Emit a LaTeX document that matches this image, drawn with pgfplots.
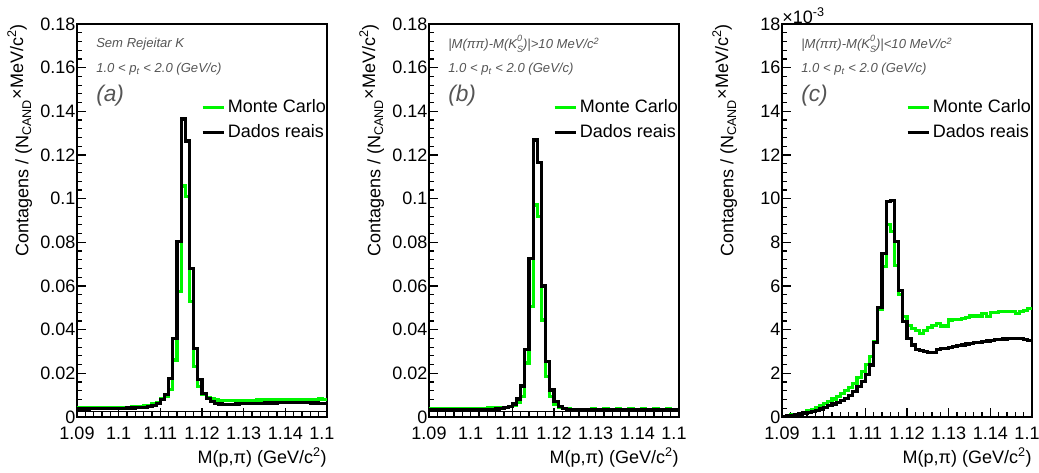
\documentclass[border=0pt]{standalone}
\usepackage{fontspec}
\setmainfont{Liberation Sans}
\usepackage{graphicx}
\usepackage{pgfplots}
\usepackage{pgfplotstable}
\pgfplotsset{compat=1.18}
\definecolor{mcgreen}{RGB}{0,245,0}
\definecolor{annot}{RGB}{85,85,85}
\newcommand{\tickfont}{\fontsize{13.5pt}{16pt}\selectfont}
\newcommand{\legfont}{\fontsize{13.5pt}{16pt}\selectfont}
\newcommand{\annfont}{\fontsize{9.8pt}{11pt}\selectfont\itshape}
\newcommand{\cutlab}{\makebox[0pt][l]{1.1}\phantom{1.15}}
\newcommand{\KS}{K\raisebox{-0.5ex}{\fontsize{6.8pt}{6.6pt}\selectfont\shortstack[l]{0\\S}}}

\pgfplotstableread{
x mc dat
1.090 .0042 .0037
1.091 .0042 .0037
1.092 .0042 .0037
1.093 .0042 .0038
1.094 .0043 .0038
1.095 .0043 .0038
1.096 .0043 .0038
1.097 .0043 .0039
1.098 .0044 .0039
1.099 .0044 .0039
1.100 .0044 .0040
1.101 .0045 .0040
1.102 .0045 .0041
1.103 .0046 .0041
1.104 .0047 .0042
1.105 .0048 .0043
1.106 .0050 .0045
1.107 .0054 .0048
1.108 .0060 .0053
1.109 .0068 .0063
1.110 .0085 .0080
1.111 .0095 .0104
1.112 .0127 .0177
1.113 .0261 .0360
1.114 .0574 .0803
1.115 .1058 .1365
1.116 .1009 .1264
1.117 .0528 .0681
1.118 .0230 .0313
1.119 .0139 .0173
1.120 .0104 .0109
1.121 .0090 .0086
1.122 .0082 .0070
1.123 .0078 .0063
1.124 .0076 .0060
1.125 .0075 .0058
1.126 .0075 .0058
1.127 .0076 .0059
1.128 .0076 .0060
1.129 .0076 .0061
1.130 .0077 .0062
1.131 .0077 .0062
1.132 .0077 .0063
1.133 .0078 .0063
1.134 .0078 .0063
1.135 .0078 .0064
1.136 .0079 .0064
1.137 .0079 .0064
1.138 .0079 .0065
1.139 .0080 .0065
1.140 .0080 .0065
1.141 .0080 .0066
1.142 .0080 .0065
1.143 .0081 .0066
1.144 .0080 .0065
1.145 .0081 .0065
1.146 .0081 .0064
1.147 .0081 .0064
1.148 .0082 .0063
1.149 .0081 .0063
1.150 .0081 .0063
}\tabA

\pgfplotstableread{
x mc dat
1.090 .0040 .0035
1.091 .0040 .0035
1.092 .0039 .0035
1.093 .0040 .0034
1.094 .0040 .0035
1.095 .0039 .0034
1.096 .0040 .0034
1.097 .0040 .0035
1.098 .0039 .0034
1.099 .0040 .0034
1.100 .0040 .0035
1.101 .0040 .0035
1.102 .0040 .0035
1.103 .0040 .0035
1.104 .0041 .0036
1.105 .0041 .0036
1.106 .0041 .0037
1.107 .0042 .0039
1.108 .0044 .0043
1.109 .0047 .0048
1.110 .0054 .0060
1.111 .0066 .0082
1.112 .0095 .0142
1.113 .0247 .0310
1.114 .0505 .0727
1.115 .0971 .1269
1.116 .0920 .1165
1.117 .0444 .0600
1.118 .0185 .0253
1.119 .0093 .0124
1.120 .0058 .0070
1.121 .0045 .0048
1.122 .0040 .0040
1.123 .0037 .0036
1.124 .0036 .0034
1.125 .0036 .0033
1.126 .0036 .0033
1.127 .0036 .0033
1.128 .0036 .0033
1.129 .0037 .0033
1.130 .0036 .0033
1.131 .0036 .0033
1.132 .0037 .0034
1.133 .0036 .0033
1.134 .0036 .0033
1.135 .0037 .0033
1.136 .0036 .0033
1.137 .0036 .0034
1.138 .0037 .0033
1.139 .0036 .0033
1.140 .0036 .0033
1.141 .0037 .0033
1.142 .0036 .0034
1.143 .0036 .0033
1.144 .0037 .0033
1.145 .0036 .0033
1.146 .0036 .0033
1.147 .0037 .0034
1.148 .0036 .0033
1.149 .0036 .0033
1.150 .0036 .0033
}\tabB

\pgfplotstableread{
x mc dat
1.090 0.03 0.03
1.091 0.05 0.05
1.092 0.09 0.08
1.093 0.12 0.11
1.094 0.17 0.14
1.095 0.22 0.18
1.096 0.28 0.22
1.097 0.35 0.26
1.098 0.43 0.31
1.099 0.52 0.37
1.100 0.61 0.44
1.101 0.71 0.52
1.102 0.82 0.60
1.103 0.94 0.68
1.104 1.06 0.77
1.105 1.20 0.86
1.106 1.36 0.97
1.107 1.55 1.15
1.108 1.80 1.38
1.109 2.07 1.62
1.110 2.40 1.96
1.111 2.78 2.38
1.112 3.45 3.42
1.113 4.92 5.02
1.114 6.90 7.48
1.115 8.81 9.88
1.116 8.50 9.92
1.117 6.93 8.02
1.118 5.60 5.79
1.119 4.60 4.36
1.120 4.18 3.58
1.121 4.05 3.30
1.122 3.98 3.10
1.123 3.84 3.05
1.124 3.95 3.00
1.125 4.10 2.97
1.126 4.20 2.94
1.127 4.30 3.08
1.128 4.17 3.12
1.129 4.17 3.15
1.130 4.44 3.19
1.131 4.47 3.22
1.132 4.47 3.26
1.133 4.50 3.30
1.134 4.55 3.34
1.135 4.63 3.37
1.136 4.63 3.40
1.137 4.63 3.43
1.138 4.75 3.45
1.139 4.60 3.48
1.140 4.78 3.51
1.141 4.78 3.54
1.142 4.82 3.55
1.143 4.85 3.57
1.144 4.82 3.58
1.145 4.85 3.60
1.146 4.75 3.60
1.147 4.85 3.59
1.148 4.86 3.56
1.149 4.98 3.49
1.150 4.98 3.49
}\tabC

\pgfplotsset{
  rootaxis/.style={
    scale only axis, width=187.5pt, height=294.75pt, anchor=south west,
    clip mode=individual,
    xmin=1.09, xmax=1.15, ymin=0,
    xtick={1.09,1.10,1.11,1.12,1.13,1.14,1.15},
    xticklabels={1.09,1.1,1.11,1.12,1.13,1.14,\cutlab},
    minor x tick num=4, minor y tick num=4,
    tick align=inside, tick pos=left,
    major tick length=6.5pt, minor tick length=3.5pt,
    axis line style={line width=1.4pt},
    every tick/.style={black, line width=0.9pt},
    /pgf/number format/assume math mode=true,
    scaled y ticks=false,
    yticklabel style={font=\tickfont, inner xsep=1pt, /pgf/number format/fixed, /pgf/number format/precision=2},
    xticklabel style={font=\tickfont, yshift=-4pt},
    xlabel={M(p,π) (GeV/c\textsuperscript{2})},
    xlabel style={at={(rel axis cs:1,0)}, anchor=north east, yshift=-23pt, font=\tickfont, inner sep=0pt},
    ylabel={Contagens / (N\textsubscript{CAND}\raisebox{0.55ex}{×MeV/c\textsuperscript{2})}},
    ylabel style={at={(rel axis cs:0,1)}, anchor=east, yshift=43pt, font=\tickfont, inner sep=0pt},
    legend style={at={(rel axis cs:0.495,0.815)}, anchor=north west, draw=none, fill=none,
      font=\legfont, row sep=3.5pt, inner sep=0pt},
    legend image code/.code={\draw[#1] (0pt,0pt) -- (15.75pt,0pt);},
    legend cell align=left,
  },
  mc/.style={const plot, mcgreen, line width=2.4pt},
  dat/.style={const plot, black, line width=2.4pt},
}

\begin{document}
\begin{tikzpicture}
\useasboundingbox (0,0) rectangle (779.25pt,354pt);

% (a)
\begin{axis}[rootaxis, at={(57.75pt,41.25pt)}, ymax=0.18,
  ytick={0,0.02,0.04,0.06,0.08,0.1,0.12,0.14,0.16,0.18}]
\addplot[mc] table[x=x,y=mc] {\tabA};
\addlegendentry{Monte Carlo}
\addplot[dat] table[x=x,y=dat] {\tabA};
\addlegendentry{Dados reais}
\addplot[black, line width=0.6pt, forget plot] coordinates {(1.09,0.0024) (1.15,0.0024)};
\node[anchor=west, font=\annfont, text=annot, inner sep=0pt] at (rel axis cs:0.076,0.949) {Sem Rejeitar K};
\node[anchor=west, font=\annfont, text=annot, inner sep=0pt] at (rel axis cs:0.076,0.885) {1.0 < p\textsubscript{t} < 2.0 (GeV/c)};
\node[anchor=west, font=\fontsize{17pt}{19pt}\selectfont\itshape, text=annot, inner sep=0pt] at (rel axis cs:0.076,0.818) {(a)};
\end{axis}

% (b)
\begin{axis}[rootaxis, at={(321.75pt,41.25pt)}, ymax=0.18,
  ytick={0,0.02,0.04,0.06,0.08,0.1,0.12,0.14,0.16,0.18}]
\addplot[mc] table[x=x,y=mc] {\tabB};
\addlegendentry{Monte Carlo}
\addplot[dat] table[x=x,y=dat] {\tabB};
\addlegendentry{Dados reais}
\addplot[black, line width=0.6pt, forget plot] coordinates {(1.09,0.0024) (1.15,0.0024)};
\node[anchor=west, font=\annfont, text=annot, inner sep=0pt] at (rel axis cs:0.076,0.949) {|M(ππ)-M(\KS)|>10 MeV/c\textsuperscript{2}};
\node[anchor=west, font=\annfont, text=annot, inner sep=0pt] at (rel axis cs:0.076,0.885) {1.0 < p\textsubscript{t} < 2.0 (GeV/c)};
\node[anchor=west, font=\fontsize{17pt}{19pt}\selectfont\itshape, text=annot, inner sep=0pt] at (rel axis cs:0.076,0.818) {(b)};
\end{axis}

% (c)
\begin{axis}[rootaxis, at={(586.5pt,41.25pt)}, ymax=18,
  ytick={0,2,4,6,8,10,12,14,16,18}]
\addplot[mc] table[x=x,y=mc] {\tabC};
\addlegendentry{Monte Carlo}
\addplot[dat] table[x=x,y=dat] {\tabC};
\addlegendentry{Dados reais}
\node[anchor=west, font=\annfont, text=annot, inner sep=0pt] at (rel axis cs:0.076,0.949) {|M(ππ)-M(\KS)|<10 MeV/c\textsuperscript{2}};
\node[anchor=west, font=\annfont, text=annot, inner sep=0pt] at (rel axis cs:0.076,0.885) {1.0 < p\textsubscript{t} < 2.0 (GeV/c)};
\node[anchor=west, font=\fontsize{17pt}{19pt}\selectfont\itshape, text=annot, inner sep=0pt] at (rel axis cs:0.076,0.818) {(c)};
\node[anchor=south west, font=\tickfont, inner sep=0pt] at (rel axis cs:0,1) {×10\textsuperscript{-3}};
\end{axis}
\end{tikzpicture}
\end{document}
